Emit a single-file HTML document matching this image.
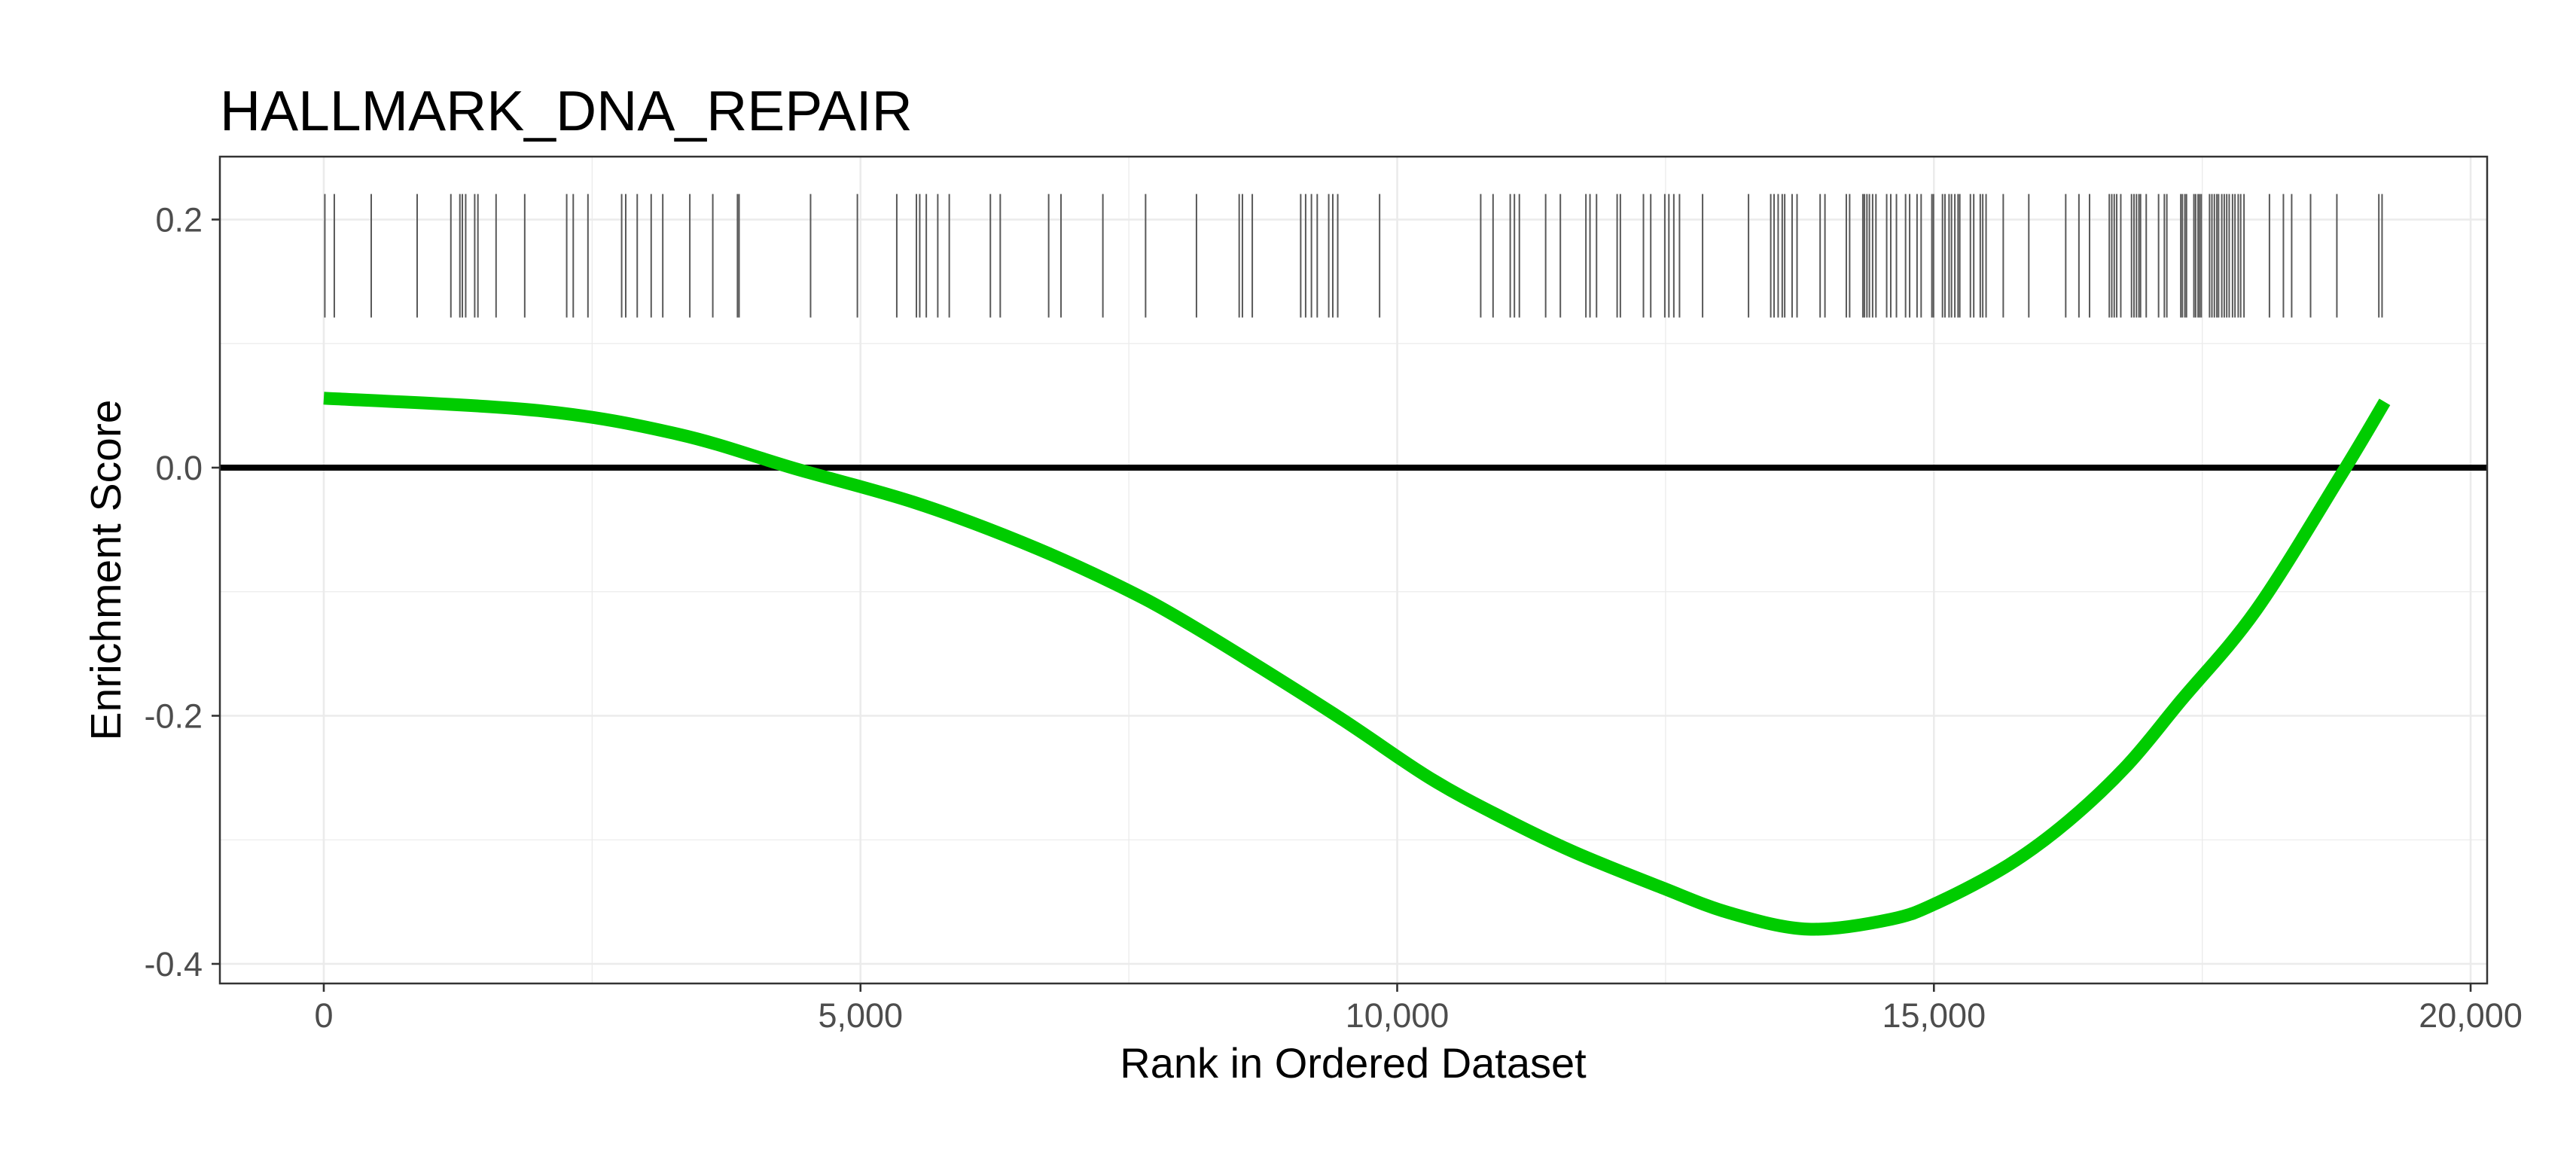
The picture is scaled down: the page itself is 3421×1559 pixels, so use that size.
<!DOCTYPE html>
<html><head><meta charset="utf-8"><style>
html,body{margin:0;padding:0;background:#fff;}
svg{display:block;font-family:"Liberation Sans",Arial,sans-serif;}
</style></head><body>
<svg id="chart" width="3421" height="1559" viewBox="0 0 3421 1559">
<rect width="3421" height="1559" fill="#fff"/>
<text x="292" y="173" font-size="75" fill="#000">HALLMARK_DNA_REPAIR</text>
<g id="grid"></g>
<g id="rug"></g>
<line id="zero" stroke="#000" stroke-width="8"/>
<path id="curve" fill="none" stroke="#00cc00" stroke-width="17" stroke-linejoin="round"/>
<rect x="292" y="208" width="3011" height="1098" fill="none" stroke="#333" stroke-width="2.5"/>
<g id="axes"></g>
<text x="1797" y="1431" font-size="56" text-anchor="middle" fill="#000">Rank in Ordered Dataset</text>
<text transform="translate(160,757) rotate(-90)" font-size="57" text-anchor="middle" fill="#000">Enrichment Score</text>
</svg>
<script>
const xTicks = [0, 5000, 10000, 15000, 20000];
const xTickLabels = ["0", "5,000", "10,000", "15,000", "20,000"];
const xMinor = [2500, 7500, 12500, 17500];
const yTicks = [0.2, 0.0, -0.2, -0.4];
const yTickLabels = ["0.2", "0.0", "-0.2", "-0.4"];
const yMinor = [0.1, -0.1, -0.3];
const curveRanks = [0, 2000, 3300, 4400, 5500, 6500, 7400, 8100, 9400, 10300, 11000, 11650, 12450, 13100, 13830, 14600, 15050, 15700, 16250, 16800, 17300, 18000, 18800, 19200];
const curveScores = [0.056, 0.046, 0.027, -0.001, -0.028, -0.060, -0.095, -0.128, -0.198, -0.250, -0.283, -0.310, -0.338, -0.359, -0.372, -0.364, -0.350, -0.320, -0.285, -0.240, -0.188, -0.115, -0.005, 0.053];
const hitRanks = [10,98,442,870,1184,1268,1291,1322,1406,1436,1605,1872,2263,2324,2461,2775,2813,2920,3050,3158,3410,3624,3854,3869,4535,4971,5338,5521,5552,5613,5720,5827,6210,6302,6753,6868,7258,7656,8130,8528,8558,8650,
9101,9147,9201,9255,9362,9400,9446,9836,10778,10893,11053,11092,11138,11383,11520,11758,11796,11857,12049,12079,12294,12362,12493,12531,12577,12630,12845,13273,13480,13511,13549,13587,13610,13679,13725,13940,13985,14184,14215,14338,14353,14376,14399,14429,14460,14560,14598,14651,14736,14774,14843,14881,14981,14996,15080,15103,15141,15164,15195,15225,15241,15340,15371,15432,15455,15486,15646,15884,16228,16351,16450,16634,16657,16680,16703,16741,16841,16864,16887,16910,16925,16978,17093,17147,17170,17300,17315,17338,17353,17422,17438,17461,17476,17491,17568,17590,17613,17636,17652,17682,17705,17728,17751,17782,17805,17835,17858,17889,18126,18256,18333,18509,18754,19145,19175];
const rugTop = 0.2206, rugBottom = 0.121;

const PL=292, PR=3303, PT=208, PB=1306;
const X0=-968, X1=20154, Y0=-0.4158, Y1=0.2507;
const sx = v => PL + (v - X0) / (X1 - X0) * (PR - PL);
const sy = v => PB - (v - Y0) / (Y1 - Y0) * (PB - PT);
const NS = "http://www.w3.org/2000/svg";
function mk(tag, attrs, parent){const e=document.createElementNS(NS,tag);for(const k in attrs)e.setAttribute(k,attrs[k]);parent.appendChild(e);return e;}
const grid=document.getElementById('grid'), axes=document.getElementById('axes'), rug=document.getElementById('rug');

yMinor.forEach(v=>{const l=mk('line',{x1:PL,x2:PR,y1:sy(v),y2:sy(v),stroke:'#ebebeb','stroke-width':1.3},grid);

});
xMinor.forEach(v=>{const l=mk('line',{x1:sx(v),x2:sx(v),y1:PT,y2:PB,stroke:'#ebebeb','stroke-width':1.3},grid);

});
yTicks.forEach((v,i)=>{const l=mk('line',{x1:PL,x2:PR,y1:sy(v),y2:sy(v),stroke:'#ebebeb','stroke-width':2.6},grid);


const t=mk('line',{x1:281,x2:PL,y1:sy(v),y2:sy(v),stroke:'#333','stroke-width':2.6},axes);


const tx=mk('text',{x:269,y:sy(v)+16,'font-size':45,'text-anchor':'end',fill:'#4d4d4d'},axes);
tx.textContent=yTickLabels[i];

});
xTicks.forEach((v,i)=>{const l=mk('line',{x1:sx(v),x2:sx(v),y1:PT,y2:PB,stroke:'#ebebeb','stroke-width':2.6},grid);


const t=mk('line',{x1:sx(v),x2:sx(v),y1:PB,y2:PB+11,stroke:'#333','stroke-width':2.6},axes);


const tx=mk('text',{x:sx(v),y:1364,'font-size':45,'text-anchor':'middle',fill:'#4d4d4d'},axes);
tx.textContent=xTickLabels[i];

});

hitRanks.forEach(r=>{const l=mk('line',{x1:sx(r),x2:sx(r),y1:sy(rugTop),y2:sy(rugBottom),stroke:'#595959','stroke-width':2},rug);

});

const z=document.getElementById('zero');
z.setAttribute('x1',PL);z.setAttribute('x2',PR);z.setAttribute('y1',sy(0));z.setAttribute('y2',sy(0));

const pts=curveRanks.map((r,i)=>[sx(r),sy(curveScores[i])]);
let d='M'+pts[0][0]+','+pts[0][1];
for(let i=0;i<pts.length-1;i++){
 const p0=pts[Math.max(0,i-1)],p1=pts[i],p2=pts[i+1],p3=pts[Math.min(pts.length-1,i+2)];
 const c1=[p1[0]+(p2[0]-p0[0])/6,p1[1]+(p2[1]-p0[1])/6];
 const c2=[p2[0]-(p3[0]-p1[0])/6,p2[1]-(p3[1]-p1[1])/6];
 d+=' C'+c1[0]+','+c1[1]+' '+c2[0]+','+c2[1]+' '+p2[0]+','+p2[1];
}
document.getElementById('curve').setAttribute('d',d);
</script>
</body></html>
